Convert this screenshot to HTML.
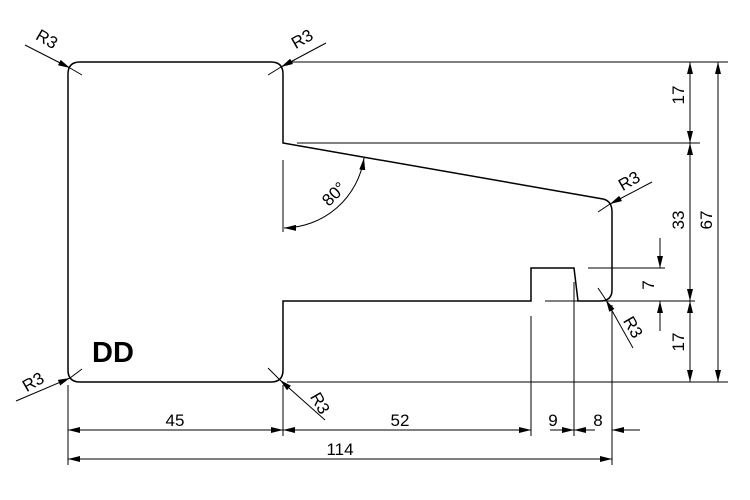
<!DOCTYPE html>
<html><head><style>html,body{margin:0;padding:0;background:#fff}</style></head>
<body>
<svg width="750" height="500" xmlns="http://www.w3.org/2000/svg" style="display:block">
<defs>
<marker id="a" viewBox="0 0 12 6" refX="12" refY="3" markerWidth="12" markerHeight="6" markerUnits="userSpaceOnUse" orient="auto-start-reverse"><path d="M0,0L12,3L0,6z" fill="#000"/></marker>
</defs>
<g fill="none" stroke="#000" stroke-width="1.5">
<path d="M80,62 H271 Q283,62 283,74 V143 L603,199 Q612,201 612,212 V290 Q612,301 600,301 H578 L574,268 H531 V301 H283 V370 Q283,382 271,382 H80 Q68,382 68,370 V74 Q68,62 80,62 Z"/>
</g>
<g fill="none" stroke="#000" stroke-width="1">
<line x1="287" y1="62" x2="728" y2="62"/>
<line x1="297" y1="143" x2="700" y2="143"/>
<line x1="588" y1="268" x2="665" y2="268"/>
<line x1="545" y1="301" x2="695" y2="301"/>
<line x1="287" y1="382" x2="728" y2="382"/>
<line x1="68" y1="385" x2="68" y2="465"/>
<line x1="283" y1="385" x2="283" y2="436"/>
<line x1="531" y1="316" x2="531" y2="436"/>
<line x1="574" y1="282" x2="574" y2="436"/>
<line x1="612" y1="305" x2="612" y2="465"/>
<line x1="283" y1="160" x2="283" y2="232"/>
<line x1="690" y1="143" x2="690" y2="62" marker-end="url(#a)"/>
<line x1="690" y1="62" x2="690" y2="143" marker-end="url(#a)"/>
<line x1="690" y1="220" x2="690" y2="143" marker-end="url(#a)"/>
<line x1="690" y1="220" x2="690" y2="301" marker-end="url(#a)"/>
<line x1="690" y1="340" x2="690" y2="301" marker-end="url(#a)"/>
<line x1="690" y1="340" x2="690" y2="382" marker-end="url(#a)"/>
<line x1="718" y1="220" x2="718" y2="62" marker-end="url(#a)"/>
<line x1="718" y1="220" x2="718" y2="382" marker-end="url(#a)"/>
<line x1="660" y1="238" x2="660" y2="268" marker-end="url(#a)"/>
<line x1="660" y1="331" x2="660" y2="301" marker-end="url(#a)"/>
<line x1="175" y1="430" x2="68" y2="430" marker-end="url(#a)"/>
<line x1="175" y1="430" x2="283" y2="430" marker-end="url(#a)"/>
<line x1="400" y1="430" x2="283" y2="430" marker-end="url(#a)"/>
<line x1="400" y1="430" x2="531" y2="430" marker-end="url(#a)"/>
<line x1="550" y1="430" x2="574" y2="430" marker-end="url(#a)"/>
<line x1="595" y1="430" x2="574" y2="430" marker-end="url(#a)"/>
<line x1="640" y1="430" x2="612" y2="430" marker-end="url(#a)"/>
<line x1="340" y1="459" x2="68" y2="459" marker-end="url(#a)"/>
<line x1="340" y1="459" x2="612" y2="459" marker-end="url(#a)"/>
<line x1="25" y1="45" x2="70" y2="68" marker-end="url(#a)"/><line x1="70" y1="68" x2="82" y2="75"/>
<line x1="326" y1="43" x2="281" y2="67" marker-end="url(#a)"/><line x1="281" y1="67" x2="268" y2="75"/>
<line x1="652" y1="182" x2="610" y2="204" marker-end="url(#a)"/><line x1="610" y1="204" x2="598" y2="212"/>
<line x1="633" y1="348" x2="606" y2="300" marker-end="url(#a)"/><line x1="606" y1="300" x2="598" y2="288"/>
<line x1="16" y1="401" x2="70" y2="378" marker-end="url(#a)"/><line x1="70" y1="378" x2="82" y2="369"/>
<line x1="325" y1="420" x2="280" y2="380" marker-end="url(#a)"/><line x1="280" y1="380" x2="268" y2="368"/>
<path d="M364,158 A82,82 0 0 1 284,228" marker-start="url(#a)" marker-end="url(#a)"/>
</g>
<g font-family="Liberation Sans, sans-serif" font-size="17" fill="#000" text-anchor="middle">
<text x="175" y="426">45</text>
<text x="400" y="426">52</text>
<text x="553" y="426">9</text>
<text x="598" y="426">8</text>
<text x="340" y="455">114</text>
<text transform="translate(684,95) rotate(-90)">17</text>
<text transform="translate(684,220) rotate(-90)">33</text>
<text transform="translate(684,342) rotate(-90)">17</text>
<text transform="translate(712,220) rotate(-90)">67</text>
<text transform="translate(654,285) rotate(-90)">7</text>
<text transform="translate(44,44) rotate(30)">R3</text>
<text transform="translate(305,44) rotate(-30)">R3</text>
<text transform="translate(632,186) rotate(-30)">R3</text>
<text transform="translate(628,330) rotate(60)">R3</text>
<text transform="translate(36,387) rotate(-30)">R3</text>
<text transform="translate(315,406) rotate(60)">R3</text>
<text transform="translate(338,198) rotate(-45)">80°</text>
<text x="113" y="362" font-size="29" font-weight="bold">DD</text>
</g>
</svg>
</body></html>
